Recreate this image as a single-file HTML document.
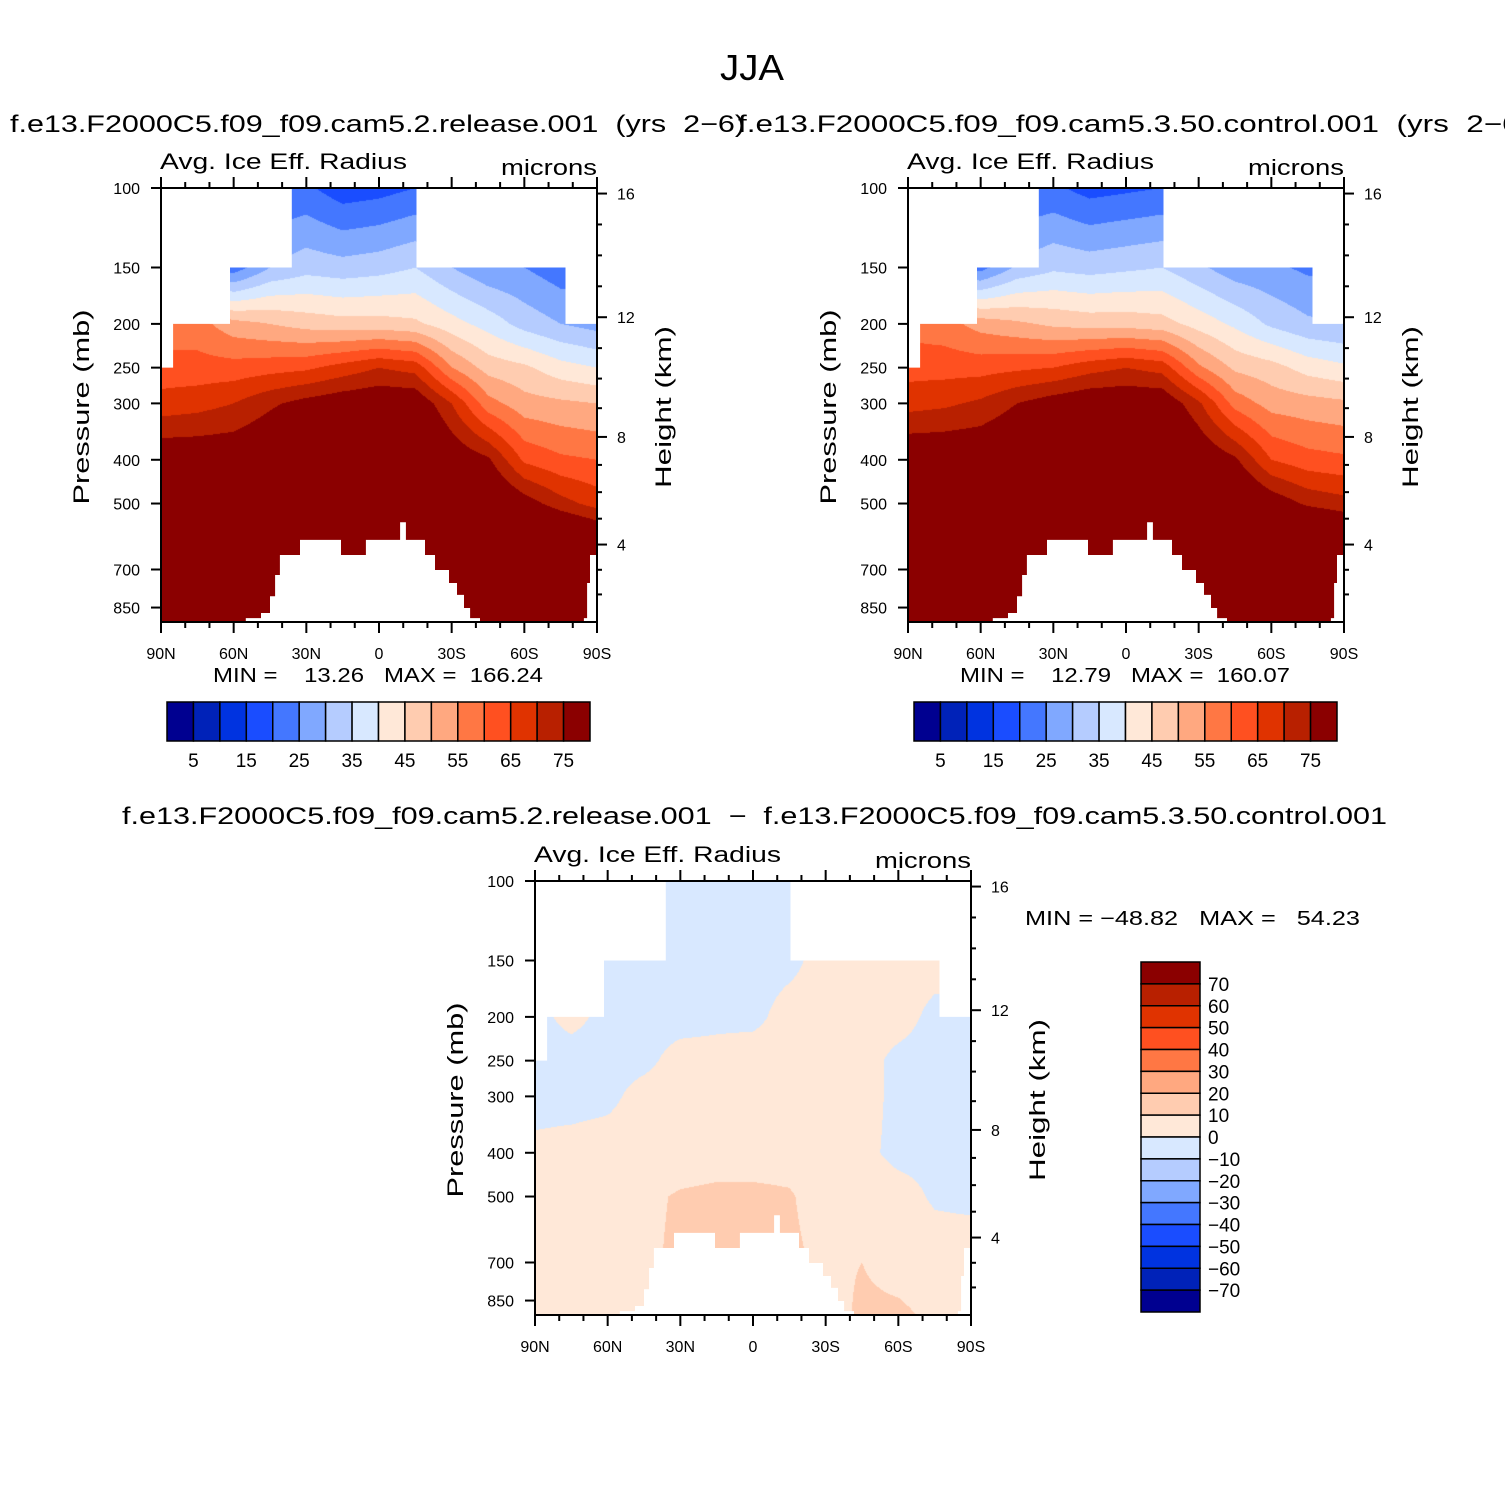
<!DOCTYPE html>
<html><head><meta charset="utf-8">
<style>
html,body{margin:0;padding:0;background:#fff;}
#wrap{position:relative;width:1505px;height:1505px;overflow:hidden;}
canvas,svg{position:absolute;left:0;top:0;}
text{font-family:"Liberation Sans",sans-serif;fill:#000;white-space:pre;}
</style></head>
<body>
<div id="wrap">
<canvas id="cv" width="1505" height="1505"></canvas>
<svg id="sv" width="1505" height="1505" xmlns="http://www.w3.org/2000/svg"></svg>
</div>
<script>
// ---- data ----
const lats = [90,75,60,45,30,15,0,-15,-30,-45,-60,-75,-90];
const levels = [100,150,200,250,300,400,500,700,915];
const field1 = [
 [20,20,20,20,21,17,18,20,20,20,20,20,20],
 [30,25,22,30,33,32,33,35,30,26,25,22,22],
 [57,57,52,50,48,47,47,46,42,38,33,30,28],
 [62,62,62,63,64,67,70,68,55,48,46,42,40],
 [67,68,70,74,77,79,80,80,70,57,52,51,50],
 [80,80,80,82,85,88,88,88,80,76,64,61,60],
 [90,90,90,90,90,90,90,90,90,84,78,72,68],
 [100,100,100,100,100,100,100,100,100,100,100,100,95],
 [100,100,100,100,100,100,100,100,100,100,100,100,100]
];
const field2 = [
 [20,20,20,20,21,18,19,20,20,20,20,20,20],
 [30,24,23,31,34,33,34,35,31,27,26,24,24],
 [58,57,53,51,49,48,48,47,43,39,34,31,30],
 [63,63,63,64,65,68,70,68,56,49,47,43,41],
 [68,69,71,75,78,80,80,80,71,58,53,52,51],
 [81,81,81,83,86,88,88,88,81,76,65,62,61],
 [90,90,90,90,90,90,90,90,90,85,79,74,72],
 [100,100,100,100,100,100,100,100,100,100,100,100,96],
 [100,100,100,100,100,100,100,100,100,100,100,100,100]
];
const fieldDiff = [
 [-3,-3,-3,-3,-3,-3,-3,-3,-3,-3,-3,-3,-3],
 [-2,-2,-2,-3,-3,-3,-3,-2,3,3,3,3,3],
 [-2,2,-2,-3,-3,-2,-2,3,3,3,3,-2,-2],
 [-3,-3,-3,-2,3,3,4,3,3,3,-2,-3,-3],
 [-3,-3,-2,3,4,4,4,4,3,3,-2,-3,-3],
 [2,3,4,4,5,6,6,6,5,2,-2,-2,-3],
 [4,4,5,8,11,12,12,11,5,4,3,-1,-2],
 [5,5,6,8,12,12,12,12,8,10,6,4,5],
 [8,10,6,5,5,5,5,5,5,12,12,8,8]
];
const colors = ["#000090","#0022b8","#0033e0","#1a4dff","#4477ff","#80a8ff","#b5ccff","#d8e8ff",
 "#ffe8d8","#ffccb0","#ffa880","#ff7744","#ff5020","#e03300","#b82000","#8b0000"];
const cbLabels1 = ["5","15","25","35","45","55","65","75"];
const cbLabelsDiff = ["70","60","50","40","30","20","10","0","\u221210","\u221220","\u221230","\u221240","\u221250","\u221260","\u221270"];
const pTicks = [100,150,200,250,300,400,500,700,850];
const kmTicks = [4,8,12,16];
const latTicks = [90,60,30,0,-30,-60,-90];
const latTickLabels = ["90N","60N","30N","0","30S","60S","90S"];
const topMaskL_lat = [90,90,85,85,61.5,61.5,36,36];
const topMaskL_p = [100,250,250,200,200,150,150,100];
const topMaskR_lat = [-15.5,-15.5,-77,-77,-90,-90];
const topMaskR_p = [100,150,150,200,200,100];
const topoLat = [55,55,48.7,48.7,45,45,42.9,42.9,40.9,40.9,32.6,32.6,15.7,15.7,5.4,5.4,-8.7,-8.7,-11.1,-11.1,-19,-19,-23.1,-23.1,-28.9,-28.9,-32.2,-32.2,-35.1,-35.1,-37.6,-37.6,-41.7,-41.7];
const topoP = [915,897,897,874,874,802,802,720,720,650,650,602,602,650,650,602,602,550,550,602,602,650,650,702,702,750,750,797,797,852,852,897,897,915];
const topoRLat = [-84.6,-84.6,-85.9,-85.9,-87.1,-87.1,-90,-90];
const topoRP = [915,897,897,750,750,650,650,915];

// ---- rendering ----
const NS="http://www.w3.org/2000/svg";
const sv=document.getElementById('sv');
const ctx=document.getElementById('cv').getContext('2d');
const PW=436, PH=434, PBOT=915;
function mk(tag,attrs,parent){const e=document.createElementNS(NS,tag);for(const k in attrs)e.setAttribute(k,attrs[k]);(parent||sv).appendChild(e);return e;}
function txt(s,x,y,size,anchor,parent,len,rot){
  const t=mk('text',{x:x,y:y,'font-size':size,'text-anchor':anchor||'start'},parent);
  t.setAttributeNS('http://www.w3.org/XML/1998/namespace','xml:space','preserve');
  if(len){t.setAttribute('textLength',len);t.setAttribute('lengthAdjust','spacingAndGlyphs');}
  if(rot)t.setAttribute('transform','rotate(-90 '+x+' '+y+')');
  t.textContent=s;return t;}
function hex(c){return [parseInt(c.substr(1,2),16),parseInt(c.substr(3,2),16),parseInt(c.substr(5,2),16)];}
const rgb=colors.map(hex);
function kmToP(z){z*=1000;if(z<=11000)return 1013.25*Math.pow(1-2.25577e-5*z,5.25588);return 226.32*Math.exp(-(z-11000)/6341.6);}

function panel(x0,y0,field,idxFn,name,minmax,mmx,mmy,mmlen){
  const X=lat=>x0+(90-lat)/180*PW;
  const Y=p=>y0+Math.log(p/100)/Math.log(PBOT/100)*PH;
  const g=mk('g',{});
  
  
  const img=ctx.createImageData(PW,PH);
  const lnL=levels.map(Math.log);
  for(let py=0;py<PH;py++){
    const lp=Math.log(100)+ (py+0.5)/PH*Math.log(PBOT/100);
    let k=0;while(k<levels.length-2&&lp>lnL[k+1])k++;
    const fk=Math.min(1,Math.max(0,(lp-lnL[k])/(lnL[k+1]-lnL[k])));
    for(let px=0;px<PW;px++){
      const fi=(px+0.5)/PW*(lats.length-1);
      let i=Math.min(lats.length-2,Math.floor(fi));const fl=fi-i;
      const v=(1-fk)*((1-fl)*field[k][i]+fl*field[k][i+1])+fk*((1-fl)*field[k+1][i]+fl*field[k+1][i+1]);
      const c=rgb[idxFn(v)];const o=(py*PW+px)*4;
      img.data[o]=c[0];img.data[o+1]=c[1];img.data[o+2]=c[2];img.data[o+3]=255;
    }
  }
  ctx.putImageData(img,x0,y0);
  const poly=(la,pa,n)=>{const pts=la.map((l,j)=>X(l).toFixed(1)+','+Y(pa[j]).toFixed(1)).join(' ');
    const e=mk('polygon',{points:pts,fill:'#fff',stroke:'none'},g);
    
    };
  poly(topMaskL_lat,topMaskL_p,'missing-data-mask-left');
  poly(topMaskR_lat,topMaskR_p,'missing-data-mask-right');
  poly(topoLat,topoP,'topography-mask');
  poly(topoRLat,topoRP,'topography-mask-antarctica');
  const fr=mk('rect',{x:x0,y:y0,width:PW,height:PH,fill:'none',stroke:'#000','stroke-width':2},g);
  
  
  pTicks.forEach(p=>{const y=Y(p);mk('line',{x1:x0-10,x2:x0,y1:y,y2:y,stroke:'#000','stroke-width':2},g);
    const t=txt(String(p),x0-21,y+6,16,'end',g);
    
    });
  for(let z=2;z<=16;z++){const y=Y(kmToP(z));if(y<y0||y>y0+PH)continue;
    const maj=kmTicks.indexOf(z)>=0;
    mk('line',{x1:x0+PW,x2:x0+PW+(maj?10:5),y1:y,y2:y,stroke:'#000','stroke-width':2},g);
    if(maj){const t=txt(String(z),x0+PW+20,y+6,16,'start',g);
      
      }}
  for(let l=90;l>=-90;l-=10){const x=X(l);const maj=l%30===0;const L=maj?11:6;
    mk('line',{x1:x,x2:x,y1:y0+PH,y2:y0+PH+L,stroke:'#000','stroke-width':2},g);
    mk('line',{x1:x,x2:x,y1:y0,y2:y0-L,stroke:'#000','stroke-width':2},g);}
  latTicks.forEach((l,j)=>{const t=txt(latTickLabels[j],X(l),y0+PH+37,16,'middle',g);
    
    });
  const a=txt('Avg. Ice Eff. Radius',x0-1,y0-19,22,'start',g,247);
  
  
  const m=txt('microns',x0+PW,y0-13,22,'end',g,96);
  
  
  const yl=txt('Pressure (mb)',x0-72,y0+219,22,'middle',g,195,true);
  
  
  const hl=txt('Height (km)',x0+PW+74,y0+219,22,'middle',g,162,true);
  
  
  const mm=txt(minmax,mmx,mmy,20,'start',g,mmlen);
  
  
}
const idx1=v=>Math.max(0,Math.min(15,Math.floor(v/5)));
const idxD=v=>Math.max(0,Math.min(15,Math.floor(v/10)+8));

const tt=txt('JJA',752,80,36,'middle',null,64);


const t1=txt('f.e13.F2000C5.f09_f09.cam5.2.release.001  (yrs  2\u22126)',10,132,24,'start',null,735);


const t2=txt('f.e13.F2000C5.f09_f09.cam5.3.50.control.001  (yrs  2\u22126)',738,132,24,'start',null,792);


const t3=txt('f.e13.F2000C5.f09_f09.cam5.2.release.001  \u2212  f.e13.F2000C5.f09_f09.cam5.3.50.control.001',122,824,24,'start',null,1265);



panel(161,188,field1,idx1,'panel-release','MIN =    13.26   MAX =  166.24',213,682,330);
panel(908,188,field2,idx1,'panel-control','MIN =    12.79   MAX =  160.07',960,682,330);
panel(535,881,fieldDiff,idxD,'panel-difference','MIN = \u221248.82   MAX =   54.23',1025,925,335);

function hbar(x0,name){const g=mk('g',{});
  
  
  const bw=423/16;
  colors.forEach((c,i)=>{const r=mk('rect',{x:x0+i*bw,y:702,width:bw,height:39,fill:c,stroke:'#000','stroke-width':1.5},g);
    
    });
  cbLabels1.forEach((s,j)=>{const t=txt(s,x0+(2*j+1)*bw,767,19,'middle',g);
    
    });}
hbar(167,'colorbar-release');
hbar(914,'colorbar-control');
(function(){const g=mk('g',{});
  
  
  const bh=350/16;
  for(let i=0;i<16;i++){const r=mk('rect',{x:1141,y:962+i*bh,width:59,height:bh,fill:colors[15-i],stroke:'#000','stroke-width':1.5},g);
    
    }
  cbLabelsDiff.forEach((s,j)=>{const t=txt(s,1208,962+(j+1)*bh+7,19,'start',g);
    
    });})();
</script>
</body></html>
